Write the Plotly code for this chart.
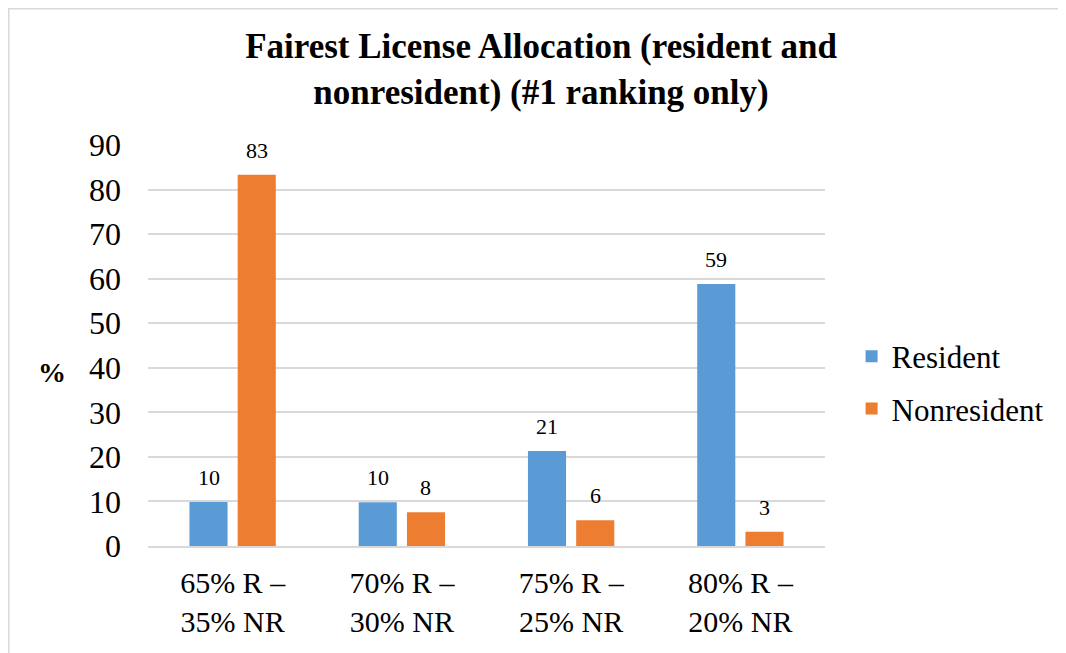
import plotly.graph_objects as go

categories = ["65% R –<br>35% NR", "70% R –<br>30% NR", "75% R –<br>25% NR", "80% R –<br>20% NR"]
resident = [9.9, 9.8, 21.3, 58.8]
nonresident = [83.3, 7.6, 5.8, 3.2]
series_names = ["Resident", "Nonresident"]
colors = ["#5B9BD5", "#ED7D31"]
y_ticks = [0, 10, 20, 30, 40, 50, 60, 70, 80, 90]

FONT = "Liberation Serif, Times New Roman, serif"

# page has an 8px body margin; plot area spans page x 148..825, y 145..546
L, T, R, B = 140, 137, 249, 115
PW, PH = 1066 - L - R, 653 - T - B

fig = go.Figure()
for name, vals, col, grp in zip(series_names, [resident, nonresident], colors, ["a", "b"]):
    fig.add_trace(go.Bar(
        x=categories, y=vals, name=name, legendgroup=grp,
        marker=dict(color=col, line=dict(width=0)),
        hoverinfo="skip",
    ))

annotations = []
for vals, shift in zip([resident, nonresident], [-24, 24]):
    for c, v in zip(categories, vals):
        annotations.append(dict(
            x=c, y=v, xref="x", yref="y", text=f"{v:.0f}", showarrow=False,
            xshift=shift, yshift=10, yanchor="bottom", xanchor="center",
            font=dict(family=FONT, size=22, color="#000000"),
        ))

annotations.append(dict(
    text="<b>%</b>", xref="paper", yref="paper", x=(44 - L) / PW, y=(653 - B - 364) / PH,
    showarrow=False, xanchor="center", yanchor="middle",
    font=dict(family=FONT, size=28, color="#000000"),
))

fig.update_layout(
    width=1066, height=653,
    margin=dict(l=L, r=R, t=T, b=B),
    paper_bgcolor="white", plot_bgcolor="white",
    barmode="group", bargap=0.43, bargroupgap=0.21,
    title=dict(
        text="<b>Fairest License Allocation (resident and<br>nonresident) (#1 ranking only)</b>",
        x=533 / 1066, xref="container", xanchor="center",
        y=1 - 50 / 653, yref="container", yanchor="middle",
        font=dict(family=FONT, size=35, color="#000000"),
    ),
    xaxis=dict(
        showgrid=False, showline=True, linecolor="#D9D9D9", linewidth=2,
        ticks="", ticklabelstandoff=9,
        tickfont=dict(family=FONT, size=30, color="#000000"),
    ),
    yaxis=dict(
        range=[0, 90], tickvals=y_ticks, showgrid=True, gridcolor="#D9D9D9", gridwidth=1.5,
        zeroline=False, showline=False, ticks="", ticklabelstandoff=26,
        tickfont=dict(family=FONT, size=32, color="#000000"),
    ),
    legend=dict(
        x=(843.6 - L) / PW, xanchor="left", y=0.4075, yanchor="middle",
        font=dict(family=FONT, size=31, color="#000000"),
        tracegroupgap=9, bgcolor="rgba(0,0,0,0)",
    ),
    annotations=annotations,
    shapes=[dict(
        type="rect", xref="paper", yref="paper",
        x0=(0.75 - L) / PW, x1=(1054 - L) / PW,
        y0=(653 - B - 720) / PH, y1=(653 - B - 0.75) / PH,
        line=dict(color="#D9D9D9", width=1.5), layer="below",
    )],
)

fig.write_html("out.html")
